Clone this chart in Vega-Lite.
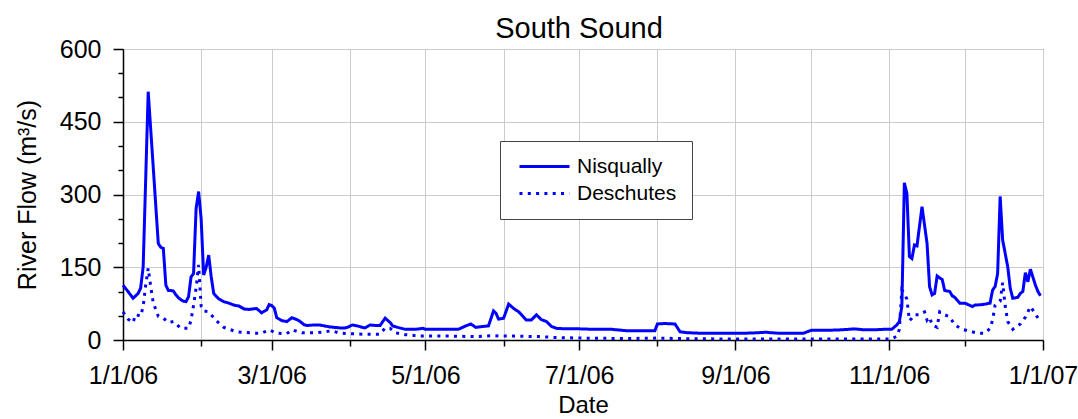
{
"$schema": "https://vega.github.io/schema/vega-lite/v6.json",
"width": 920, "height": 291,
"autosize": {"type": "none"},
"padding": {"left": 123, "top": 49, "right": 35, "bottom": 79},
"background": "white",
"title": {"text": "South Sound", "fontSize": 29, "font": "Liberation Sans", "fontWeight": "normal", "color": "black", "anchor": "middle", "frame": "group", "baseline": "alphabetic", "offset": 13, "dx": -4, "dy": 43},
"config": {"view": {"stroke": "#555", "strokeWidth": 1}, "font": "Liberation Sans"},
"data": {"values": [
{"date":"2006-01-01","river":"Nisqually","flow":113},
{"date":"2006-01-03","river":"Nisqually","flow":100},
{"date":"2006-01-05","river":"Nisqually","flow":86},
{"date":"2006-01-07","river":"Nisqually","flow":96},
{"date":"2006-01-08","river":"Nisqually","flow":107},
{"date":"2006-01-09","river":"Nisqually","flow":151},
{"date":"2006-01-11","river":"Nisqually","flow":512},
{"date":"2006-01-12","river":"Nisqually","flow":434},
{"date":"2006-01-13","river":"Nisqually","flow":356},
{"date":"2006-01-14","river":"Nisqually","flow":277},
{"date":"2006-01-15","river":"Nisqually","flow":199},
{"date":"2006-01-16","river":"Nisqually","flow":191},
{"date":"2006-01-17","river":"Nisqually","flow":189},
{"date":"2006-01-18","river":"Nisqually","flow":113},
{"date":"2006-01-19","river":"Nisqually","flow":102},
{"date":"2006-01-20","river":"Nisqually","flow":102},
{"date":"2006-01-21","river":"Nisqually","flow":101},
{"date":"2006-01-22","river":"Nisqually","flow":93},
{"date":"2006-01-23","river":"Nisqually","flow":87},
{"date":"2006-01-24","river":"Nisqually","flow":83},
{"date":"2006-01-25","river":"Nisqually","flow":80},
{"date":"2006-01-26","river":"Nisqually","flow":79},
{"date":"2006-01-27","river":"Nisqually","flow":89},
{"date":"2006-01-28","river":"Nisqually","flow":130},
{"date":"2006-01-29","river":"Nisqually","flow":137},
{"date":"2006-01-30","river":"Nisqually","flow":271},
{"date":"2006-01-31","river":"Nisqually","flow":306},
{"date":"2006-02-01","river":"Nisqually","flow":250},
{"date":"2006-02-02","river":"Nisqually","flow":134},
{"date":"2006-02-03","river":"Nisqually","flow":150},
{"date":"2006-02-04","river":"Nisqually","flow":175},
{"date":"2006-02-05","river":"Nisqually","flow":130},
{"date":"2006-02-06","river":"Nisqually","flow":96},
{"date":"2006-02-07","river":"Nisqually","flow":90},
{"date":"2006-02-08","river":"Nisqually","flow":85},
{"date":"2006-02-10","river":"Nisqually","flow":79},
{"date":"2006-02-12","river":"Nisqually","flow":76},
{"date":"2006-02-14","river":"Nisqually","flow":72},
{"date":"2006-02-16","river":"Nisqually","flow":70},
{"date":"2006-02-18","river":"Nisqually","flow":64},
{"date":"2006-02-20","river":"Nisqually","flow":63},
{"date":"2006-02-23","river":"Nisqually","flow":65},
{"date":"2006-02-25","river":"Nisqually","flow":56},
{"date":"2006-02-27","river":"Nisqually","flow":62},
{"date":"2006-02-28","river":"Nisqually","flow":73},
{"date":"2006-03-01","river":"Nisqually","flow":71},
{"date":"2006-03-02","river":"Nisqually","flow":66},
{"date":"2006-03-03","river":"Nisqually","flow":46},
{"date":"2006-03-05","river":"Nisqually","flow":40},
{"date":"2006-03-07","river":"Nisqually","flow":38},
{"date":"2006-03-09","river":"Nisqually","flow":46},
{"date":"2006-03-11","river":"Nisqually","flow":42},
{"date":"2006-03-12","river":"Nisqually","flow":39},
{"date":"2006-03-14","river":"Nisqually","flow":31},
{"date":"2006-03-15","river":"Nisqually","flow":30},
{"date":"2006-03-18","river":"Nisqually","flow":31},
{"date":"2006-03-20","river":"Nisqually","flow":31},
{"date":"2006-03-22","river":"Nisqually","flow":29},
{"date":"2006-03-24","river":"Nisqually","flow":27},
{"date":"2006-03-26","river":"Nisqually","flow":26},
{"date":"2006-03-28","river":"Nisqually","flow":25},
{"date":"2006-03-30","river":"Nisqually","flow":25},
{"date":"2006-03-31","river":"Nisqually","flow":26},
{"date":"2006-04-02","river":"Nisqually","flow":31},
{"date":"2006-04-04","river":"Nisqually","flow":29},
{"date":"2006-04-06","river":"Nisqually","flow":26},
{"date":"2006-04-07","river":"Nisqually","flow":25},
{"date":"2006-04-09","river":"Nisqually","flow":31},
{"date":"2006-04-11","river":"Nisqually","flow":30},
{"date":"2006-04-13","river":"Nisqually","flow":30},
{"date":"2006-04-15","river":"Nisqually","flow":45},
{"date":"2006-04-17","river":"Nisqually","flow":36},
{"date":"2006-04-18","river":"Nisqually","flow":29},
{"date":"2006-04-20","river":"Nisqually","flow":26},
{"date":"2006-04-23","river":"Nisqually","flow":22},
{"date":"2006-04-27","river":"Nisqually","flow":22},
{"date":"2006-04-30","river":"Nisqually","flow":24},
{"date":"2006-05-01","river":"Nisqually","flow":22},
{"date":"2006-05-06","river":"Nisqually","flow":22},
{"date":"2006-05-11","river":"Nisqually","flow":22},
{"date":"2006-05-14","river":"Nisqually","flow":22},
{"date":"2006-05-17","river":"Nisqually","flow":29},
{"date":"2006-05-19","river":"Nisqually","flow":33},
{"date":"2006-05-21","river":"Nisqually","flow":26},
{"date":"2006-05-24","river":"Nisqually","flow":28},
{"date":"2006-05-26","river":"Nisqually","flow":29},
{"date":"2006-05-28","river":"Nisqually","flow":60},
{"date":"2006-05-29","river":"Nisqually","flow":55},
{"date":"2006-05-30","river":"Nisqually","flow":43},
{"date":"2006-05-31","river":"Nisqually","flow":44},
{"date":"2006-06-01","river":"Nisqually","flow":45},
{"date":"2006-06-03","river":"Nisqually","flow":74},
{"date":"2006-06-05","river":"Nisqually","flow":65},
{"date":"2006-06-07","river":"Nisqually","flow":58},
{"date":"2006-06-09","river":"Nisqually","flow":47},
{"date":"2006-06-10","river":"Nisqually","flow":41},
{"date":"2006-06-12","river":"Nisqually","flow":41},
{"date":"2006-06-14","river":"Nisqually","flow":52},
{"date":"2006-06-16","river":"Nisqually","flow":42},
{"date":"2006-06-18","river":"Nisqually","flow":38},
{"date":"2006-06-20","river":"Nisqually","flow":28},
{"date":"2006-06-22","river":"Nisqually","flow":24},
{"date":"2006-06-26","river":"Nisqually","flow":23},
{"date":"2006-07-01","river":"Nisqually","flow":23},
{"date":"2006-07-07","river":"Nisqually","flow":22},
{"date":"2006-07-14","river":"Nisqually","flow":22},
{"date":"2006-07-18","river":"Nisqually","flow":20},
{"date":"2006-07-20","river":"Nisqually","flow":19},
{"date":"2006-07-25","river":"Nisqually","flow":19},
{"date":"2006-07-31","river":"Nisqually","flow":19},
{"date":"2006-08-01","river":"Nisqually","flow":33},
{"date":"2006-08-04","river":"Nisqually","flow":34},
{"date":"2006-08-08","river":"Nisqually","flow":33},
{"date":"2006-08-10","river":"Nisqually","flow":17},
{"date":"2006-08-13","river":"Nisqually","flow":15},
{"date":"2006-08-18","river":"Nisqually","flow":14},
{"date":"2006-08-24","river":"Nisqually","flow":14},
{"date":"2006-08-29","river":"Nisqually","flow":14},
{"date":"2006-09-05","river":"Nisqually","flow":14},
{"date":"2006-09-10","river":"Nisqually","flow":15},
{"date":"2006-09-13","river":"Nisqually","flow":16},
{"date":"2006-09-15","river":"Nisqually","flow":15},
{"date":"2006-09-18","river":"Nisqually","flow":14},
{"date":"2006-09-23","river":"Nisqually","flow":14},
{"date":"2006-09-28","river":"Nisqually","flow":14},
{"date":"2006-10-01","river":"Nisqually","flow":20},
{"date":"2006-10-08","river":"Nisqually","flow":20},
{"date":"2006-10-13","river":"Nisqually","flow":21},
{"date":"2006-10-16","river":"Nisqually","flow":22},
{"date":"2006-10-18","river":"Nisqually","flow":23},
{"date":"2006-10-20","river":"Nisqually","flow":22},
{"date":"2006-10-22","river":"Nisqually","flow":21},
{"date":"2006-10-26","river":"Nisqually","flow":21},
{"date":"2006-10-30","river":"Nisqually","flow":22},
{"date":"2006-11-02","river":"Nisqually","flow":22},
{"date":"2006-11-04","river":"Nisqually","flow":31},
{"date":"2006-11-05","river":"Nisqually","flow":38},
{"date":"2006-11-06","river":"Nisqually","flow":69},
{"date":"2006-11-07","river":"Nisqually","flow":324},
{"date":"2006-11-08","river":"Nisqually","flow":302},
{"date":"2006-11-09","river":"Nisqually","flow":172},
{"date":"2006-11-10","river":"Nisqually","flow":168},
{"date":"2006-11-11","river":"Nisqually","flow":196},
{"date":"2006-11-12","river":"Nisqually","flow":194},
{"date":"2006-11-14","river":"Nisqually","flow":275},
{"date":"2006-11-16","river":"Nisqually","flow":199},
{"date":"2006-11-17","river":"Nisqually","flow":110},
{"date":"2006-11-18","river":"Nisqually","flow":93},
{"date":"2006-11-19","river":"Nisqually","flow":96},
{"date":"2006-11-20","river":"Nisqually","flow":132},
{"date":"2006-11-21","river":"Nisqually","flow":128},
{"date":"2006-11-22","river":"Nisqually","flow":125},
{"date":"2006-11-23","river":"Nisqually","flow":102},
{"date":"2006-11-25","river":"Nisqually","flow":100},
{"date":"2006-11-26","river":"Nisqually","flow":91},
{"date":"2006-11-27","river":"Nisqually","flow":88},
{"date":"2006-11-29","river":"Nisqually","flow":76},
{"date":"2006-12-01","river":"Nisqually","flow":76},
{"date":"2006-12-04","river":"Nisqually","flow":69},
{"date":"2006-12-05","river":"Nisqually","flow":72},
{"date":"2006-12-08","river":"Nisqually","flow":73},
{"date":"2006-12-11","river":"Nisqually","flow":76},
{"date":"2006-12-12","river":"Nisqually","flow":103},
{"date":"2006-12-13","river":"Nisqually","flow":110},
{"date":"2006-12-14","river":"Nisqually","flow":137},
{"date":"2006-12-15","river":"Nisqually","flow":296},
{"date":"2006-12-16","river":"Nisqually","flow":206},
{"date":"2006-12-18","river":"Nisqually","flow":151},
{"date":"2006-12-19","river":"Nisqually","flow":107},
{"date":"2006-12-20","river":"Nisqually","flow":86},
{"date":"2006-12-22","river":"Nisqually","flow":88},
{"date":"2006-12-23","river":"Nisqually","flow":96},
{"date":"2006-12-24","river":"Nisqually","flow":100},
{"date":"2006-12-25","river":"Nisqually","flow":139},
{"date":"2006-12-26","river":"Nisqually","flow":120},
{"date":"2006-12-27","river":"Nisqually","flow":146},
{"date":"2006-12-29","river":"Nisqually","flow":113},
{"date":"2006-12-30","river":"Nisqually","flow":100},
{"date":"2006-12-31","river":"Nisqually","flow":91},
{"date":"2006-01-01","river":"Deschutes","flow":58},
{"date":"2006-01-03","river":"Deschutes","flow":43},
{"date":"2006-01-05","river":"Deschutes","flow":36},
{"date":"2006-01-06","river":"Deschutes","flow":53},
{"date":"2006-01-08","river":"Deschutes","flow":49},
{"date":"2006-01-09","river":"Deschutes","flow":69},
{"date":"2006-01-10","river":"Deschutes","flow":113},
{"date":"2006-01-11","river":"Deschutes","flow":148},
{"date":"2006-01-12","river":"Deschutes","flow":110},
{"date":"2006-01-13","river":"Deschutes","flow":77},
{"date":"2006-01-15","river":"Deschutes","flow":49},
{"date":"2006-01-17","river":"Deschutes","flow":45},
{"date":"2006-01-19","river":"Deschutes","flow":36},
{"date":"2006-01-21","river":"Deschutes","flow":38},
{"date":"2006-01-24","river":"Deschutes","flow":24},
{"date":"2006-01-27","river":"Deschutes","flow":24},
{"date":"2006-01-28","river":"Deschutes","flow":41},
{"date":"2006-01-29","river":"Deschutes","flow":72},
{"date":"2006-01-30","river":"Deschutes","flow":107},
{"date":"2006-01-31","river":"Deschutes","flow":155},
{"date":"2006-02-01","river":"Deschutes","flow":70},
{"date":"2006-02-02","river":"Deschutes","flow":60},
{"date":"2006-02-04","river":"Deschutes","flow":58},
{"date":"2006-02-07","river":"Deschutes","flow":40},
{"date":"2006-02-10","river":"Deschutes","flow":26},
{"date":"2006-02-15","river":"Deschutes","flow":17},
{"date":"2006-02-22","river":"Deschutes","flow":14},
{"date":"2006-02-25","river":"Deschutes","flow":14},
{"date":"2006-02-28","river":"Deschutes","flow":21},
{"date":"2006-03-03","river":"Deschutes","flow":14},
{"date":"2006-03-07","river":"Deschutes","flow":13},
{"date":"2006-03-09","river":"Deschutes","flow":21},
{"date":"2006-03-13","river":"Deschutes","flow":15},
{"date":"2006-03-19","river":"Deschutes","flow":15},
{"date":"2006-03-25","river":"Deschutes","flow":19},
{"date":"2006-03-28","river":"Deschutes","flow":14},
{"date":"2006-04-06","river":"Deschutes","flow":12},
{"date":"2006-04-13","river":"Deschutes","flow":12},
{"date":"2006-04-15","river":"Deschutes","flow":25},
{"date":"2006-04-17","river":"Deschutes","flow":24},
{"date":"2006-04-19","river":"Deschutes","flow":15},
{"date":"2006-04-23","river":"Deschutes","flow":11},
{"date":"2006-04-29","river":"Deschutes","flow":8},
{"date":"2006-05-11","river":"Deschutes","flow":8},
{"date":"2006-05-21","river":"Deschutes","flow":7},
{"date":"2006-05-28","river":"Deschutes","flow":9},
{"date":"2006-05-31","river":"Deschutes","flow":8},
{"date":"2006-06-05","river":"Deschutes","flow":8},
{"date":"2006-06-15","river":"Deschutes","flow":7},
{"date":"2006-06-22","river":"Deschutes","flow":5},
{"date":"2006-07-01","river":"Deschutes","flow":4},
{"date":"2006-07-20","river":"Deschutes","flow":3},
{"date":"2006-08-01","river":"Deschutes","flow":4},
{"date":"2006-08-09","river":"Deschutes","flow":3},
{"date":"2006-08-29","river":"Deschutes","flow":2},
{"date":"2006-09-18","river":"Deschutes","flow":2},
{"date":"2006-10-08","river":"Deschutes","flow":2},
{"date":"2006-11-02","river":"Deschutes","flow":2},
{"date":"2006-11-04","river":"Deschutes","flow":8},
{"date":"2006-11-05","river":"Deschutes","flow":22},
{"date":"2006-11-06","river":"Deschutes","flow":103},
{"date":"2006-11-07","river":"Deschutes","flow":96},
{"date":"2006-11-08","river":"Deschutes","flow":84},
{"date":"2006-11-09","river":"Deschutes","flow":40},
{"date":"2006-11-10","river":"Deschutes","flow":45},
{"date":"2006-11-11","river":"Deschutes","flow":52},
{"date":"2006-11-13","river":"Deschutes","flow":52},
{"date":"2006-11-15","river":"Deschutes","flow":58},
{"date":"2006-11-16","river":"Deschutes","flow":41},
{"date":"2006-11-17","river":"Deschutes","flow":47},
{"date":"2006-11-18","river":"Deschutes","flow":31},
{"date":"2006-11-20","river":"Deschutes","flow":26},
{"date":"2006-11-21","river":"Deschutes","flow":58},
{"date":"2006-11-23","river":"Deschutes","flow":52},
{"date":"2006-11-25","river":"Deschutes","flow":48},
{"date":"2006-11-27","river":"Deschutes","flow":31},
{"date":"2006-11-30","river":"Deschutes","flow":22},
{"date":"2006-12-03","river":"Deschutes","flow":18},
{"date":"2006-12-06","river":"Deschutes","flow":14},
{"date":"2006-12-09","river":"Deschutes","flow":14},
{"date":"2006-12-11","river":"Deschutes","flow":24},
{"date":"2006-12-12","river":"Deschutes","flow":41},
{"date":"2006-12-13","river":"Deschutes","flow":72},
{"date":"2006-12-15","river":"Deschutes","flow":80},
{"date":"2006-12-16","river":"Deschutes","flow":118},
{"date":"2006-12-17","river":"Deschutes","flow":70},
{"date":"2006-12-18","river":"Deschutes","flow":38},
{"date":"2006-12-20","river":"Deschutes","flow":22},
{"date":"2006-12-23","river":"Deschutes","flow":33},
{"date":"2006-12-25","river":"Deschutes","flow":47},
{"date":"2006-12-27","river":"Deschutes","flow":69},
{"date":"2006-12-29","river":"Deschutes","flow":54},
{"date":"2006-12-31","river":"Deschutes","flow":36}
]},
"mark": {"type": "line", "color": "#0000ff", "strokeWidth": 3},
"encoding": {
  "x": {"field": "date", "type": "temporal",
    "scale": {"type": "utc", "domain": [{"year": 2006, "month": 1, "date": 1, "utc": true}, {"year": 2007, "month": 1, "date": 1, "utc": true}], "nice": false},
    "axis": {"title": "Date", "tickCount": {"interval": "month", "step": 1},
      "labelExpr": "utcmonth(datum.value) % 2 === 0 ? utcFormat(datum.value, '%-m/%-d/%y') : ''",
      "labelOverlap": false, "labelFlush": false, "labelFontSize": 25, "labelColor": "black", "labelPadding": 13, "labelFont": "Liberation Sans",
      "tickSize": {"condition": {"test": "utcmonth(datum.value) % 2 === 0", "value": 10}, "value": 6},
      "tickColor": "black", "tickWidth": 1.5, "domainColor": "black", "domainWidth": 1.5,
      "grid": true, "gridColor": "#cccccc", "gridWidth": 1,
      "titleFontSize": 24, "titleFontWeight": "normal", "titleColor": "black", "titleFont": "Liberation Sans", "titleBaseline": "alphabetic", "titleY": 72}},
  "y": {"field": "flow", "type": "quantitative",
    "scale": {"domain": [0, 600], "nice": false},
    "axis": {"title": "River Flow (m³/s)", "values": [0, 50, 100, 150, 200, 250, 300, 350, 400, 450, 500, 550, 600],
      "labelExpr": "datum.value % 150 === 0 ? datum.label : ''",
      "grid": true, "gridColor": "#cccccc", "gridWidth": 1,
      "gridOpacity": {"condition": {"test": "datum.value % 150 === 0", "value": 1}, "value": 0},
      "tickSize": {"condition": {"test": "datum.value % 150 === 0", "value": 10}, "value": 5},
      "tickColor": "black", "tickWidth": 1.5, "domainColor": "black", "domainWidth": 1.5,
      "labelOverlap": false, "labelFontSize": 25, "labelColor": "black", "labelPadding": 12, "labelFont": "Liberation Sans",
      "titleFontSize": 25, "titleFontWeight": "normal", "titleColor": "black", "titleFont": "Liberation Sans",
      "titleX": -96, "titleY": 145.5, "titleAngle": -90, "titleAlign": "center", "titleBaseline": "middle"}},
  "strokeDash": {"field": "river", "type": "nominal",
    "scale": {"domain": ["Nisqually", "Deschutes"], "range": [[1, 0], [3, 5.3]]},
    "legend": {"title": null, "orient": "none", "legendX": 377, "legendY": 92, "padding": 15,
      "strokeColor": "#444", "fillColor": "white", "cornerRadius": 0,
      "symbolType": "M-5,0H5", "symbolSize": 100, "symbolOffset": 19, "symbolStrokeWidth": 3, "symbolStrokeColor": "#0000ff",
      "labelFontSize": 21, "labelColor": "black", "labelFont": "Liberation Sans", "labelOffset": 22, "rowPadding": 5}}
}
}
